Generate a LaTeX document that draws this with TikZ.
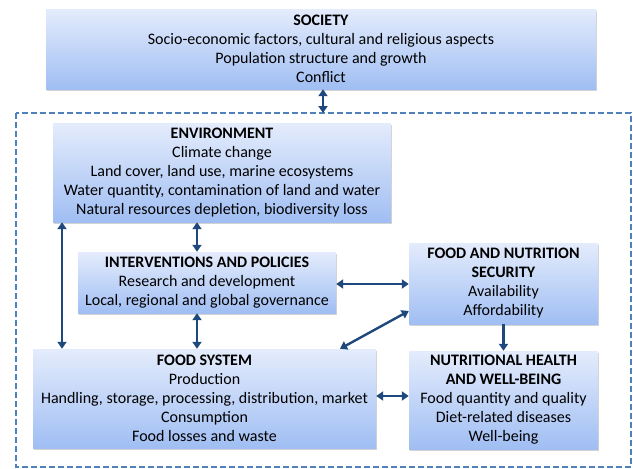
\documentclass[tikz,border=0pt]{standalone}
\usepackage{fontspec}
\setmainfont{Carlito}
\usepackage{tikz}
\usetikzlibrary{arrows.meta}
\usetikzlibrary{shadows}
\definecolor{boxtop}{RGB}{228,236,252}
\definecolor{boxbot}{RGB}{160,190,243}
\definecolor{framecol}{RGB}{79,129,189}
\definecolor{arrowcol}{RGB}{31,73,125}

\begin{document}
\begin{tikzpicture}[x=1pt,y=-1pt,
        block/.style={inner sep=0pt, align=center, top color=boxtop, bottom color=boxbot,
            drop shadow={shadow xshift=1.2pt, shadow yshift=-1.5pt, opacity=0.35},
            font=\fontsize{16}{19}\selectfont},
        link/.style={draw=arrowcol, line width=2.4pt, {Triangle[width=9pt,length=7pt]}-{Triangle[width=9pt,length=7pt]}},
        onelink/.style={draw=arrowcol, line width=2.4pt, -{Triangle[width=9pt,length=7pt]}}]
            \useasboundingbox (0,0) rectangle (633,469);

            % dashed frame
            \draw[framecol, line width=2pt, dash pattern=on 6pt off 3pt] (16,113) rectangle (631,467);
            \coordinate (frametop) at (323,113);

            \node[block, minimum width=550pt, minimum height=80pt] (society) at (321,49)
                {\textbf{SOCIETY}\\Socio-economic factors, cultural and religious aspects\\Population structure and growth\\Conflict};
            \node[block, minimum width=338pt, minimum height=99pt] (env) at (222,172.5)
                {\textbf{ENVIRONMENT}\\Climate change\\Land cover, land use, marine ecosystems\\Water quantity, contamination of land and water\\Natural resources depletion, biodiversity loss};
            \node[block, minimum width=258pt, minimum height=61pt] (interv) at (207,282.5)
                {\textbf{INTERVENTIONS AND POLICIES}\\Research and development\\Local, regional and global governance};
            \node[block, minimum width=189pt, minimum height=81pt] (fns) at (503.5,283.5)
                {\textbf{FOOD AND NUTRITION}\\\textbf{SECURITY}\\Availability\\Affordability};
            \node[block, minimum width=343pt, minimum height=99pt] (fs) at (204.5,398.5)
                {\textbf{FOOD SYSTEM}\\Production\\Handling, storage, processing, distribution, market\\Consumption\\Food losses and waste};
            \node[block, minimum width=189pt, minimum height=98pt] (nh) at (503.5,400)
                {\textbf{NUTRITIONAL HEALTH}\\\textbf{AND WELL-BEING}\\Food quantity and quality\\Diet-related diseases\\Well-being};

            % connectors
            \draw[link] (society.south -| frametop) -- (frametop);
            \draw[link] (env.south -| 197,0) -- (interv.north -| 197,0);
            \draw[link] (env.south -| 62,0) -- (fs.north -| 62,0);
            \draw[link] (interv.south -| 197,0) -- (fs.north -| 197,0);
            \draw[link] (interv.east |- 0,284) -- (fns.west |- 0,284);
            \draw[link] (fs.north -| 340,0) -- (fns.west |- 0,311);
            \draw[onelink] (fns.south) -- (nh.north);
            \draw[link] (fs.east |- 0,396) -- (nh.west |- 0,396);
        \end{tikzpicture}
\end{document}
